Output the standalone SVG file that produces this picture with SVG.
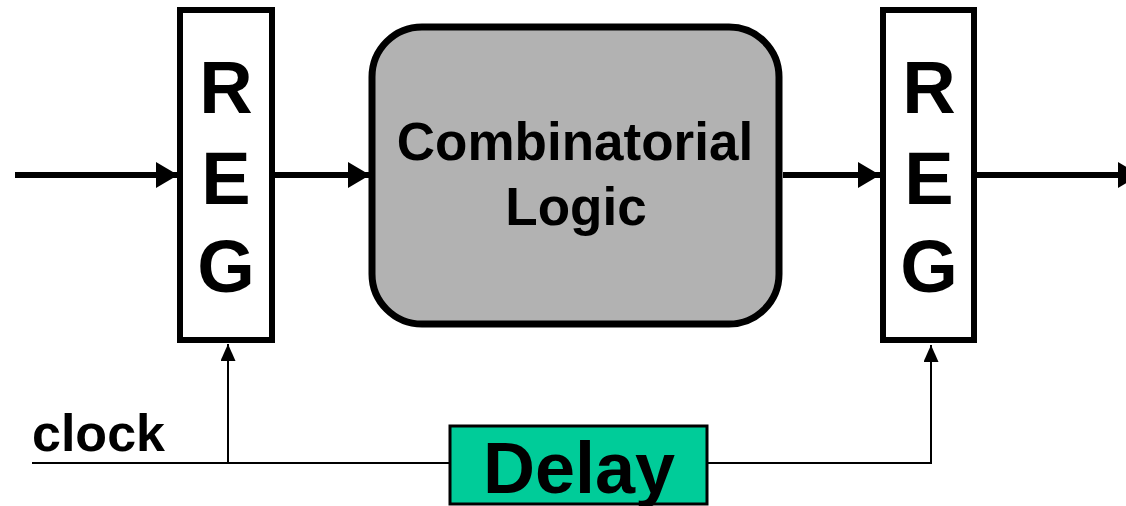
<svg xmlns="http://www.w3.org/2000/svg" width="1126" height="506" viewBox="0 0 1126 506">
<defs>
<style>
.reg{fill:#fff;stroke:#000;stroke-width:6}
.big{font-family:"Liberation Sans",Arial,sans-serif;font-weight:bold;fill:#000;text-anchor:middle}
.thick{stroke:#000;stroke-width:6;fill:none}
.thin{stroke:#000;stroke-width:2;fill:none}
</style>
<marker id="ah" markerUnits="userSpaceOnUse" markerWidth="24" markerHeight="28" refX="22" refY="13" orient="auto">
<path d="M0,0 L22,13 L0,26 Z" fill="#000"/>
</marker>
<marker id="ahs" markerUnits="userSpaceOnUse" markerWidth="18" markerHeight="16" refX="17" refY="7.5" orient="auto">
<path d="M0,0 L17,7.5 L0,15 Z" fill="#000"/>
</marker>
</defs>
<rect width="1126" height="506" fill="#fff"/>
<g id="connectors">
<line class="thick" x1="15" y1="175" x2="178" y2="175" marker-end="url(#ah)"/>
<line class="thick" x1="275" y1="175" x2="370" y2="175" marker-end="url(#ah)"/>
<line class="thick" x1="783" y1="175" x2="880" y2="175" marker-end="url(#ah)"/>
<line class="thick" x1="977" y1="175" x2="1140" y2="175" marker-end="url(#ah)"/>
<polyline class="thin" points="32,463 449,463"/>
<line class="thin" x1="228" y1="463" x2="228" y2="344" marker-end="url(#ahs)"/>
<polyline class="thin" points="708,463 931,463 931,345" marker-end="url(#ahs)"/>
</g>
<g id="reg1">
<rect class="reg" x="180" y="10" width="92" height="330"/>
<text class="big" x="226" y="113" font-size="74">R</text>
<text class="big" x="226" y="204" font-size="74">E</text>
<text class="big" x="226" y="292" font-size="74">G</text>
</g>
<g id="logic">
<rect x="372" y="27" width="407" height="297" rx="50" ry="50" fill="#b2b2b2" stroke="#000" stroke-width="7"/>
<text class="big" x="575" y="160" font-size="53">Combinatorial</text>
<text class="big" x="576" y="225" font-size="53">Logic</text>
</g>
<g id="reg2">
<rect class="reg" x="883" y="10" width="91" height="330"/>
<text class="big" x="929" y="113" font-size="74">R</text>
<text class="big" x="929" y="204" font-size="74">E</text>
<text class="big" x="929" y="292" font-size="74">G</text>
</g>
<g id="clock">
<text class="big" x="32" y="451" font-size="52" style="text-anchor:start">clock</text>
</g>
<g id="delay">
<rect x="450" y="426" width="257" height="78" fill="#00cc99" stroke="#000" stroke-width="3"/>
<text class="big" x="579" y="493" font-size="72">Delay</text>
</g>
</svg>
